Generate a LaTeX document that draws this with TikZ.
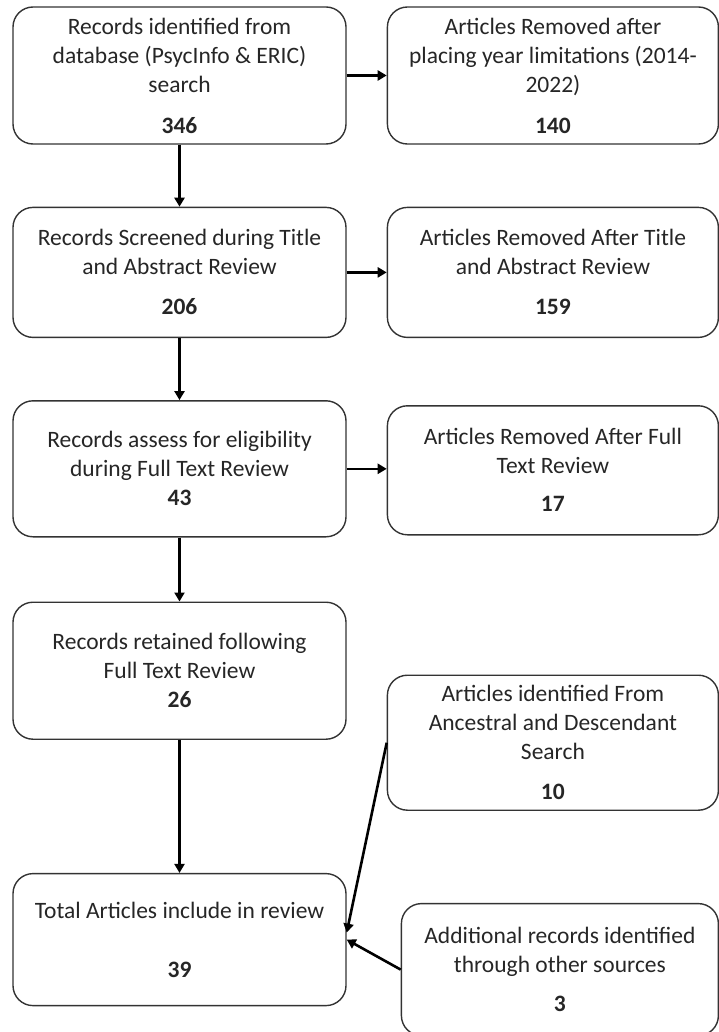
\documentclass[tikz,border=0pt]{standalone}
\usepackage{fontspec}
\setmainfont{Carlito}
\usepackage{xcolor}
\usepackage{tikz}
\usetikzlibrary{arrows.meta,positioning}
\definecolor{edge}{HTML}{333333}
\definecolor{ink}{HTML}{262626}

\begin{document}
\begin{tikzpicture}[
    x=1pt, y=1pt,
    font=\fontsize{23.5}{29}\selectfont,
    box/.style={draw=edge, line width=1.4pt, rounded corners=20pt, text=ink, align=center,
                inner sep=2pt, minimum width=333pt},
    side/.style={box, minimum width=331pt},
    flow/.style={line width=2.6pt, -{Triangle[length=9pt,width=10pt]}},
  ]
  \useasboundingbox (0,0) rectangle (718,-1032);

  \node[box, minimum height=137pt] (r1) at (179.5,-75.5)
    {Records identified from\\ database (PsycInfo \& ERIC)\\ search\\[12pt] \textbf{346}};
  \node[side, minimum height=137pt, right=40pt of r1] (x1)
    {Articles Removed after\\ placing year limitations (2014-\\ 2022)\\[12pt] \textbf{140}};

  \node[box, minimum height=130pt, below=62pt of r1] (r2)
    {Records Screened during Title\\ and Abstract Review\\[11pt] \textbf{206}};
  \node[side, minimum height=130pt, right=40pt of r2] (x2)
    {Articles Removed After Title\\ and Abstract Review\\[11pt] \textbf{159}};

  \node[box, minimum height=136pt, below=62pt of r2] (r3)
    {Records assess for eligibility\\ during Full Text Review\\ \textbf{43}};
  \node[side, minimum height=129pt, right=40pt of r3, yshift=-1.5pt] (x3)
    {Articles Removed After Full\\ Text Review\\[9pt] \textbf{17}};

  \node[box, minimum height=137pt, below=64pt of r3] (r4)
    {Records retained following\\ Full Text Review\\ \textbf{26}};
  \node[side, minimum height=135pt, below=139pt of x3] (s1)
    {Articles identified From\\ Ancestral and Descendant\\ Search\\[11pt] \textbf{10}};

  \node[box, minimum height=132pt, below=133pt of r4] (r5)
    {Total Articles include in review\\[30pt] \textbf{39}};
  \node[side, minimum width=317pt, minimum height=132pt, below=92pt of s1, xshift=7pt] (s2)
    {Additional records identified\\ through other sources\\[10pt] \textbf{3}};

  \draw[flow] (r1) -- (r2);
  \draw[flow] (r2) -- (r3);
  \draw[flow] (r3) -- (r4);
  \draw[flow] (r4) -- (r5);
  \draw[flow] (r1) -- (x1);
  \draw[flow] (r2) -- (x2);
  \draw[flow] (r3.east) -- (r3.east -| x3.west);
  \draw[flow] (s1.west) -- ([yshift=7pt]r5.east);
  \draw[flow] (s2.west) -- (r5.east);
\end{tikzpicture}
\end{document}
